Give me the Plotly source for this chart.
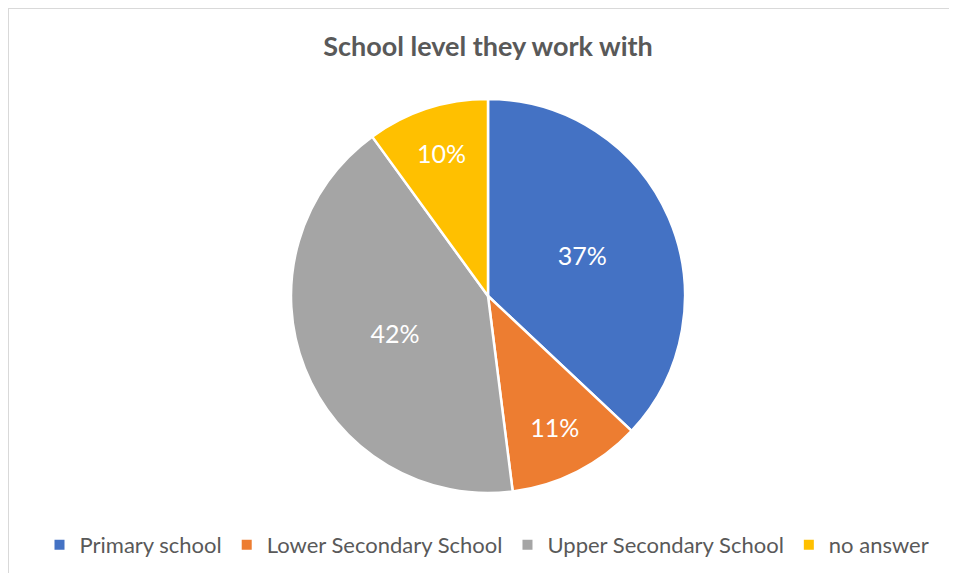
import plotly.graph_objects as go

labels = ['Primary school', 'Lower Secondary School', 'Upper Secondary School', 'no answer']
values = [37, 11, 42, 10]
colors = ['#4472C4', '#ED7D31', '#A5A5A5', '#FFC000']

# page body has an 8px margin, so the figure is 941x565 and positions are shifted
W, H = 941, 565
OFF = 8


def px(x):
    return (x - OFF) / W


def py(y):
    return 1 - (y - OFF) / H


fig = go.Figure()
fig.add_trace(go.Pie(
    labels=labels,
    values=values,
    sort=False,
    direction='clockwise',
    rotation=0,
    marker=dict(colors=colors, line=dict(color='white', width=2.5)),
    texttemplate='%{value}%',
    textposition='inside',
    insidetextorientation='horizontal',
    textfont=dict(color='white', size=25, family='Lato'),
    hoverinfo='label+percent',
    domain=dict(x=[px(291), px(685)], y=[py(493), py(99)])
))

# thin grey chart-area border (only top/left edges visible)
fig.add_shape(type='line', xref='paper', yref='paper', x0=0, x1=0, y0=0, y1=1,
              line=dict(color='#D9D9D9', width=2))
fig.add_shape(type='line', xref='paper', yref='paper', x0=0, x1=1, y0=1, y1=1,
              line=dict(color='#D9D9D9', width=2))

fig.update_layout(
    width=W,
    height=H,
    margin=dict(l=0, r=0, t=0, b=0),
    paper_bgcolor='white',
    plot_bgcolor='white',
    title=dict(text='<b>School level they work with</b>', x=px(488), xanchor='center',
               y=py(47), yanchor='middle',
               font=dict(family='Lato', size=27, color='#595959')),
    legend=dict(orientation='h', x=px(487), xanchor='center', y=py(545), yanchor='middle',
                font=dict(family='Lato', size=22, color='#595959'),
                itemsizing='constant', traceorder='normal', itemwidth=30),
    showlegend=True
)

fig.write_html('out.html')
